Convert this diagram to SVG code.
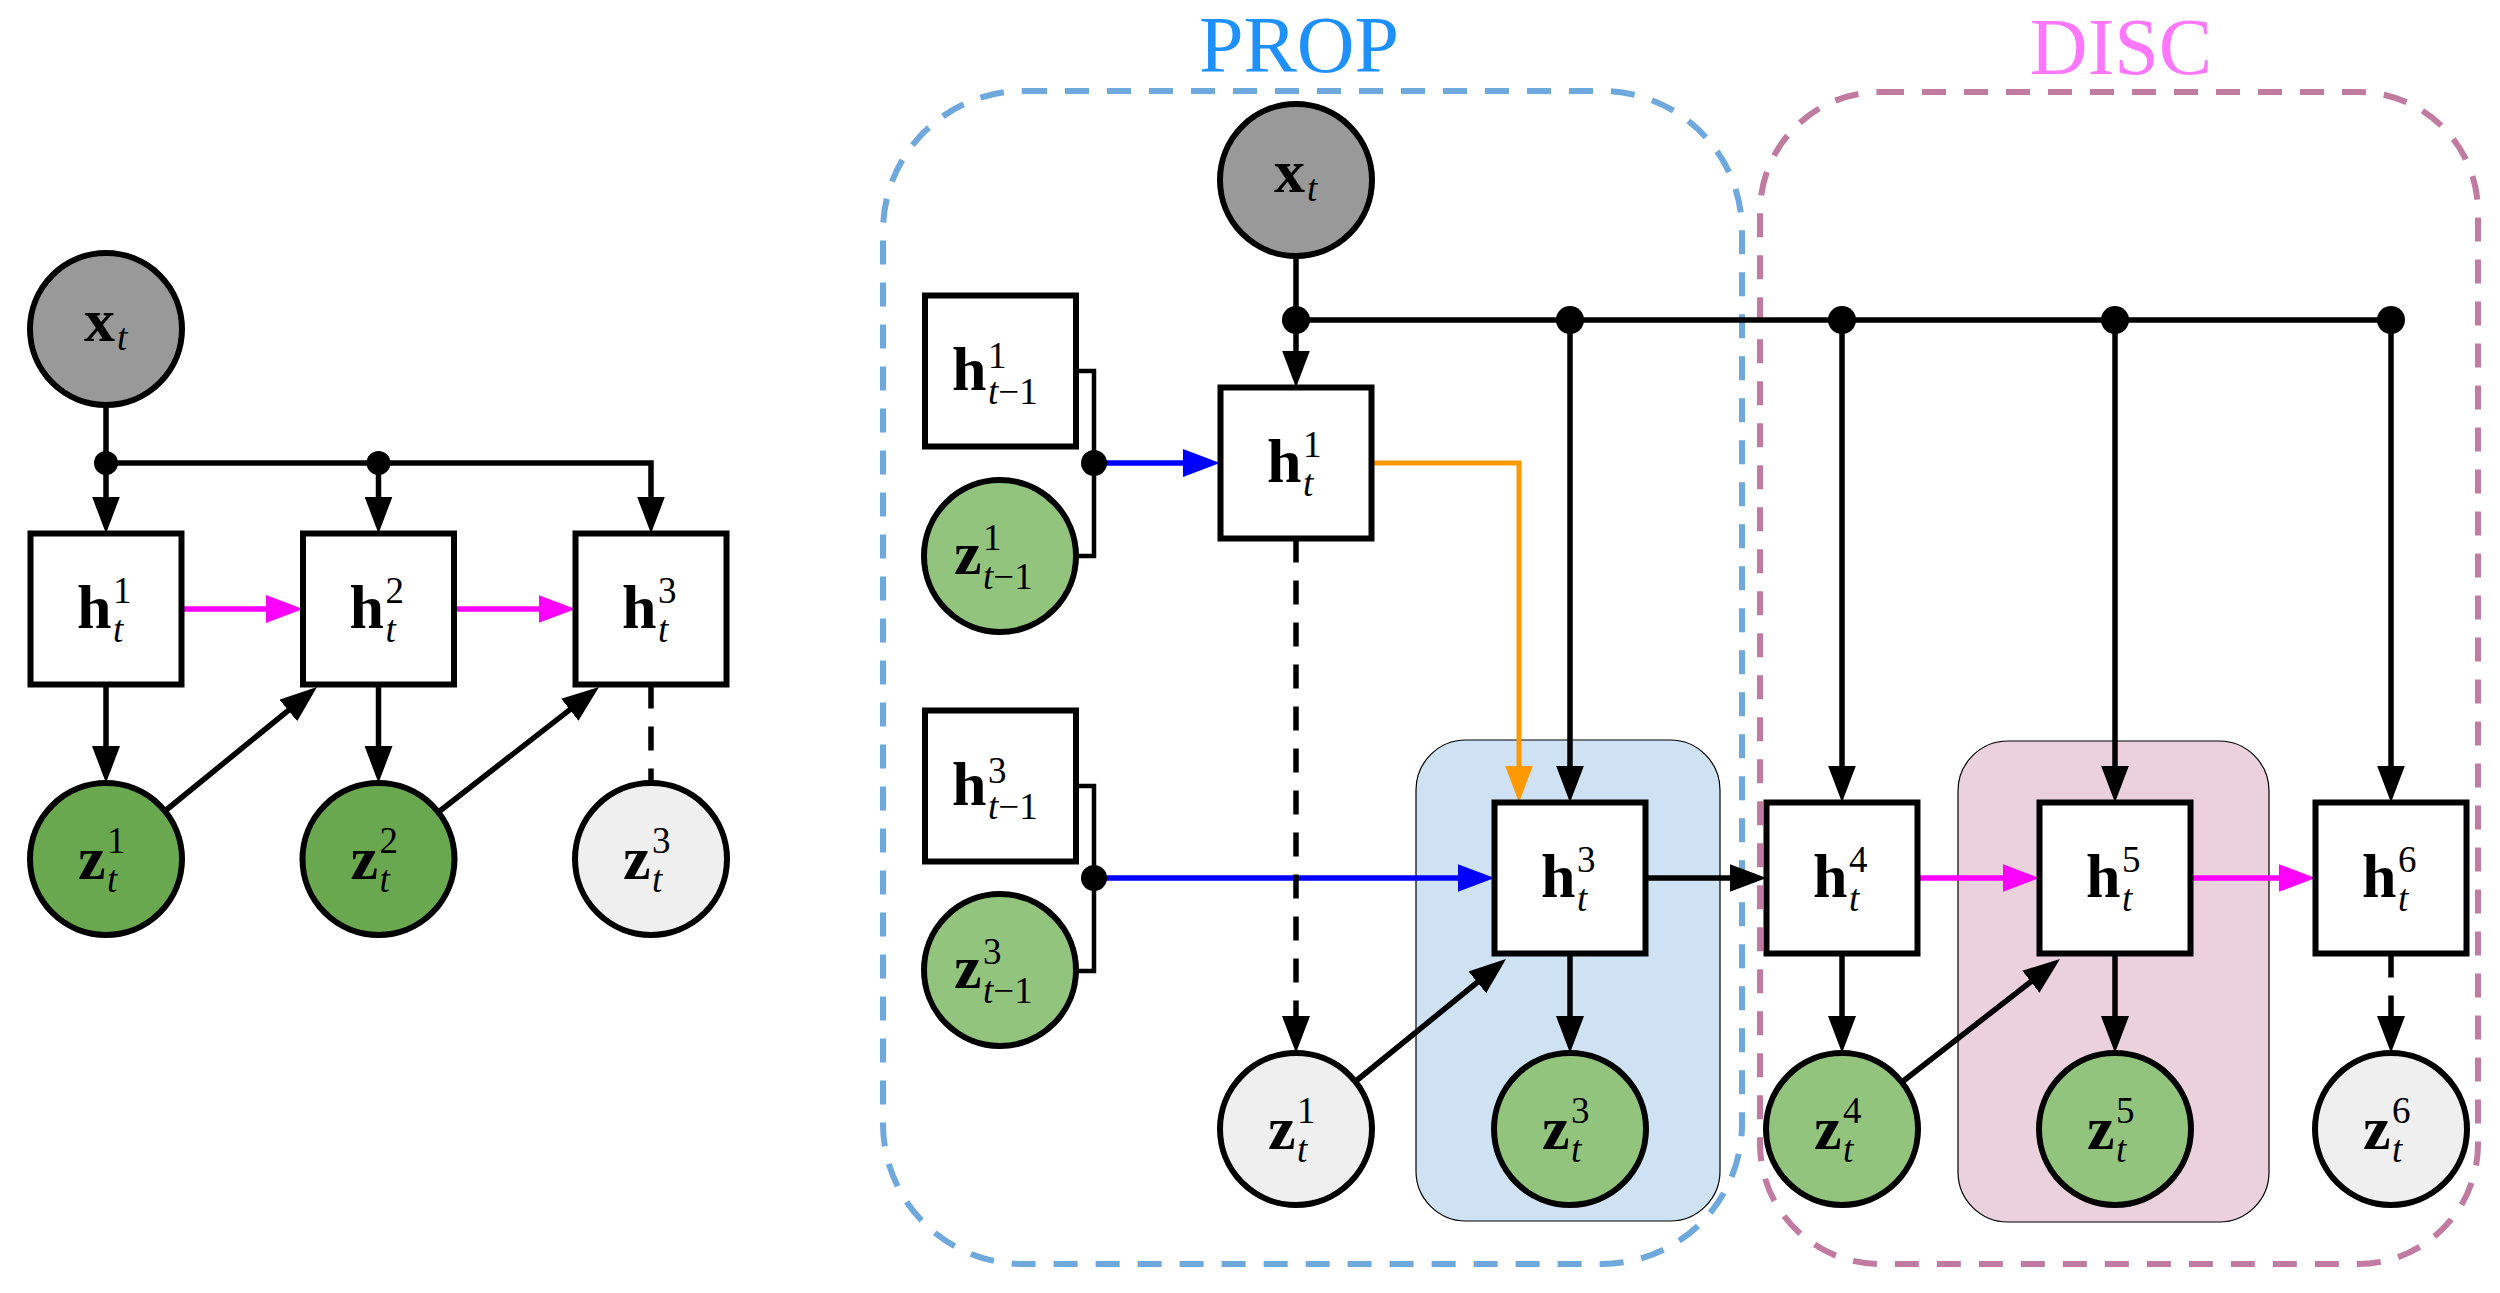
<svg xmlns="http://www.w3.org/2000/svg" width="2500" height="1293" viewBox="0 0 2500 1293">
<style>
.bg{fill:#ffffff}
.box{fill:#ffffff;stroke:#000;stroke-width:6;stroke-linejoin:miter}
.circ{stroke:#000;stroke-width:6}
.obs{fill:#999999}
.lat{fill:#6aa84f}
.lat2{fill:#93c47d}
.unk{fill:#efefef}
.ln{fill:none;stroke:#000;stroke-width:5.5}
.thin{fill:none;stroke:#000;stroke-width:4.5}
.dash{stroke-dasharray:24 18}
.mag{fill:none;stroke:#ff00ff;stroke-width:5.5}
.blu{fill:none;stroke:#0000ff;stroke-width:5.5}
.org{fill:none;stroke:#ff9900;stroke-width:5}
.dot{fill:#000}
.grp{fill:none;stroke-width:6;stroke-dasharray:24 18}
.t{font-family:"Liberation Serif",serif;fill:#000}
.b{font-weight:bold;font-size:62px}
.s{font-size:37px}
.i{font-style:italic}
.title{font-family:"Liberation Serif",serif;font-size:80px;text-anchor:middle}
</style>
<defs>
<marker id="ak" markerUnits="userSpaceOnUse" viewBox="0 0 37 28" markerWidth="37" markerHeight="28" refX="29" refY="14" orient="auto"><path d="M0,0 L37,14 L0,28 Z" fill="#000"/></marker>
<marker id="am" markerUnits="userSpaceOnUse" viewBox="0 0 37 28" markerWidth="37" markerHeight="28" refX="29" refY="14" orient="auto"><path d="M0,0 L37,14 L0,28 Z" fill="#ff00ff"/></marker>
<marker id="ab" markerUnits="userSpaceOnUse" viewBox="0 0 37 28" markerWidth="37" markerHeight="28" refX="29" refY="14" orient="auto"><path d="M0,0 L37,14 L0,28 Z" fill="#0000ff"/></marker>
<marker id="ao" markerUnits="userSpaceOnUse" viewBox="0 0 37 28" markerWidth="37" markerHeight="28" refX="29" refY="14" orient="auto"><path d="M0,0 L37,14 L0,28 Z" fill="#ff9900"/></marker>
</defs>
<rect class="bg" x="0" y="0" width="2500" height="1293"/>

<g id="groups">
  <rect id="region-blue" x="1416" y="740" width="304" height="481" rx="50" fill="#cfe2f3" stroke="#000" stroke-width="1.2"/>
  <rect id="region-pink" x="1958" y="741" width="311" height="481" rx="50" fill="#ead1dc" stroke="#000" stroke-width="1.2"/>
  <rect id="prop-box" class="grp" x="883" y="91" width="859" height="1173" rx="140" stroke="#6fa8dc"/>
  <rect id="disc-box" class="grp" x="1760" y="92" width="718" height="1172" rx="120" stroke="#c27ba0"/>
  <text class="title" x="1299" y="72" fill="#1e90ff">PROP</text>
  <text class="title" x="2121" y="74" fill="#ff77ff">DISC</text>
</g>

<g id="connectors">
  <!-- left diagram -->
  <path class="ln" d="M106,405 V463"/>
  <path class="ln" d="M106,463 V525.5" marker-end="url(#ak)"/>
  <path class="ln" d="M106,463 H651 V525.5" marker-end="url(#ak)"/>
  <path class="ln" d="M378.5,463 V525.5" marker-end="url(#ak)"/>
  <path class="ln" d="M106,684.5 V775" marker-end="url(#ak)"/>
  <path class="ln" d="M378.5,684.5 V775" marker-end="url(#ak)"/>
  <path class="ln dash" d="M651,684.5 V783"/>
  <path class="mag" d="M181.5,609 H295" marker-end="url(#am)"/>
  <path class="mag" d="M454,609 H567.5" marker-end="url(#am)"/>
  <path class="ln" d="M165,811 L310.8,692.1" marker-end="url(#ak)"/>
  <path class="ln" d="M438.5,812 L592.7,691.9" marker-end="url(#ak)"/>
  <circle class="dot" cx="106" cy="463" r="12"/>
  <circle class="dot" cx="378.5" cy="463" r="12"/>

  <!-- right diagram -->
  <path class="ln" d="M1296,256 V320"/>
  <path class="ln" d="M1296,320 V379.5" marker-end="url(#ak)"/>
  <path class="ln" d="M1296,320 H2391"/>
  <path class="ln" d="M1570,320 V794.5" marker-end="url(#ak)"/>
  <path class="ln" d="M1842,320 V794.5" marker-end="url(#ak)"/>
  <path class="ln" d="M2115,320 V794.5" marker-end="url(#ak)"/>
  <path class="ln" d="M2391,320 V794.5" marker-end="url(#ak)"/>
  <path class="thin" d="M1075.5,371 H1094 V556 H1076"/>
  <path class="thin" d="M1075.5,786 H1094 V971 H1076"/>
  <path class="blu" d="M1094,463 H1212" marker-end="url(#ab)"/>
  <path class="blu" d="M1094,878 H1486.5" marker-end="url(#ab)"/>
  <path class="org" d="M1371.5,463 H1519 V794.5" marker-end="url(#ao)"/>
  <path class="ln dash" d="M1296,538.5 V1045" marker-end="url(#ak)"/>
  <path class="ln" d="M1356,1081 L1499.8,964" marker-end="url(#ak)"/>
  <path class="ln" d="M1570,953.5 V1045" marker-end="url(#ak)"/>
  <path class="ln" d="M1645.5,878 H1758.5" marker-end="url(#ak)"/>
  <path class="ln" d="M1842,953.5 V1045" marker-end="url(#ak)"/>
  <path class="mag" d="M1917.5,878 H2031.5" marker-end="url(#am)"/>
  <path class="ln" d="M1902,1082 L2053.7,963.9" marker-end="url(#ak)"/>
  <path class="ln" d="M2115,953.5 V1045" marker-end="url(#ak)"/>
  <path class="mag" d="M2190.5,878 H2307.5" marker-end="url(#am)"/>
  <path class="ln dash" d="M2391,953.5 V1045" marker-end="url(#ak)"/>
  <circle class="dot" cx="1296" cy="320" r="14"/>
  <circle class="dot" cx="1570" cy="320" r="14"/>
  <circle class="dot" cx="1842" cy="320" r="14"/>
  <circle class="dot" cx="2115" cy="320" r="14"/>
  <circle class="dot" cx="2391" cy="320" r="14"/>
  <circle class="dot" cx="1094" cy="463" r="13"/>
  <circle class="dot" cx="1094" cy="878" r="13"/>
</g>

<!-- left diagram nodes -->
<g id="L-x">
  <circle class="circ obs" cx="106" cy="329" r="76"/>
  <text class="t"><tspan class="b" x="84" y="341">x</tspan><tspan class="s i" x="117" y="350">t</tspan></text>
</g>
<g id="L-h1">
  <rect class="box" x="30.5" y="533.5" width="151" height="151"/>
  <text class="t"><tspan class="b" x="77" y="628">h</tspan><tspan class="s" x="113" y="603">1</tspan><tspan class="s i" x="113" y="642">t</tspan></text>
</g>
<g id="L-h2">
  <rect class="box" x="303" y="533.5" width="151" height="151"/>
  <text class="t"><tspan class="b" x="349.5" y="628">h</tspan><tspan class="s" x="385.5" y="603">2</tspan><tspan class="s i" x="385.5" y="642">t</tspan></text>
</g>
<g id="L-h3">
  <rect class="box" x="575.5" y="533.5" width="151" height="151"/>
  <text class="t"><tspan class="b" x="622" y="628">h</tspan><tspan class="s" x="658" y="603">3</tspan><tspan class="s i" x="658" y="642">t</tspan></text>
</g>
<g id="L-z1">
  <circle class="circ lat" cx="106" cy="859" r="76"/>
  <text class="t"><tspan class="b" x="78" y="879">z</tspan><tspan class="s" x="107" y="853">1</tspan><tspan class="s i" x="107" y="892">t</tspan></text>
</g>
<g id="L-z2">
  <circle class="circ lat" cx="378.5" cy="859" r="76"/>
  <text class="t"><tspan class="b" x="350.5" y="879">z</tspan><tspan class="s" x="379.5" y="853">2</tspan><tspan class="s i" x="379.5" y="892">t</tspan></text>
</g>
<g id="L-z3">
  <circle class="circ unk" cx="651" cy="859" r="76"/>
  <text class="t"><tspan class="b" x="623" y="879">z</tspan><tspan class="s" x="652" y="853">3</tspan><tspan class="s i" x="652" y="892">t</tspan></text>
</g>

<!-- right diagram nodes -->
<g id="R-x">
  <circle class="circ obs" cx="1296" cy="180" r="76"/>
  <text class="t"><tspan class="b" x="1274" y="192">x</tspan><tspan class="s i" x="1307" y="201">t</tspan></text>
</g>
<g id="R-h1prev">
  <rect class="box" x="925" y="295.5" width="151" height="151"/>
  <text class="t"><tspan class="b" x="952" y="390">h</tspan><tspan class="s" x="988" y="368">1</tspan><tspan class="s" x="988" y="404"><tspan class="i">t</tspan>−1</tspan></text>
</g>
<g id="R-z1prev">
  <circle class="circ lat2" cx="1000" cy="556" r="76"/>
  <text class="t"><tspan class="b" x="954" y="574">z</tspan><tspan class="s" x="983" y="550">1</tspan><tspan class="s" x="983" y="589"><tspan class="i">t</tspan>−1</tspan></text>
</g>
<g id="R-h1">
  <rect class="box" x="1220.5" y="387.5" width="151" height="151"/>
  <text class="t"><tspan class="b" x="1267" y="482">h</tspan><tspan class="s" x="1303" y="457">1</tspan><tspan class="s i" x="1303" y="496">t</tspan></text>
</g>
<g id="R-h3prev">
  <rect class="box" x="925" y="710.5" width="151" height="151"/>
  <text class="t"><tspan class="b" x="952" y="805">h</tspan><tspan class="s" x="988" y="783">3</tspan><tspan class="s" x="988" y="819"><tspan class="i">t</tspan>−1</tspan></text>
</g>
<g id="R-z3prev">
  <circle class="circ lat2" cx="1000" cy="970" r="76"/>
  <text class="t"><tspan class="b" x="954" y="988">z</tspan><tspan class="s" x="983" y="964">3</tspan><tspan class="s" x="983" y="1003"><tspan class="i">t</tspan>−1</tspan></text>
</g>
<g id="R-h3">
  <rect class="box" x="1494.5" y="802.5" width="151" height="151"/>
  <text class="t"><tspan class="b" x="1541" y="897">h</tspan><tspan class="s" x="1577" y="872">3</tspan><tspan class="s i" x="1577" y="911">t</tspan></text>
</g>
<g id="R-h4">
  <rect class="box" x="1766.5" y="802.5" width="151" height="151"/>
  <text class="t"><tspan class="b" x="1813" y="897">h</tspan><tspan class="s" x="1849" y="872">4</tspan><tspan class="s i" x="1849" y="911">t</tspan></text>
</g>
<g id="R-h5">
  <rect class="box" x="2039.5" y="802.5" width="151" height="151"/>
  <text class="t"><tspan class="b" x="2086" y="897">h</tspan><tspan class="s" x="2122" y="872">5</tspan><tspan class="s i" x="2122" y="911">t</tspan></text>
</g>
<g id="R-h6">
  <rect class="box" x="2315.5" y="802.5" width="151" height="151"/>
  <text class="t"><tspan class="b" x="2362" y="897">h</tspan><tspan class="s" x="2398" y="872">6</tspan><tspan class="s i" x="2398" y="911">t</tspan></text>
</g>
<g id="R-z1">
  <circle class="circ unk" cx="1296" cy="1129" r="76"/>
  <text class="t"><tspan class="b" x="1268" y="1149">z</tspan><tspan class="s" x="1297" y="1123">1</tspan><tspan class="s i" x="1297" y="1162">t</tspan></text>
</g>
<g id="R-z3">
  <circle class="circ lat2" cx="1570" cy="1129" r="76"/>
  <text class="t"><tspan class="b" x="1542" y="1149">z</tspan><tspan class="s" x="1571" y="1123">3</tspan><tspan class="s i" x="1571" y="1162">t</tspan></text>
</g>
<g id="R-z4">
  <circle class="circ lat2" cx="1842" cy="1129" r="76"/>
  <text class="t"><tspan class="b" x="1814" y="1149">z</tspan><tspan class="s" x="1843" y="1123">4</tspan><tspan class="s i" x="1843" y="1162">t</tspan></text>
</g>
<g id="R-z5">
  <circle class="circ lat2" cx="2115" cy="1129" r="76"/>
  <text class="t"><tspan class="b" x="2087" y="1149">z</tspan><tspan class="s" x="2116" y="1123">5</tspan><tspan class="s i" x="2116" y="1162">t</tspan></text>
</g>
<g id="R-z6">
  <circle class="circ unk" cx="2391" cy="1129" r="76"/>
  <text class="t"><tspan class="b" x="2363" y="1149">z</tspan><tspan class="s" x="2392" y="1123">6</tspan><tspan class="s i" x="2392" y="1162">t</tspan></text>
</g>
</svg>
